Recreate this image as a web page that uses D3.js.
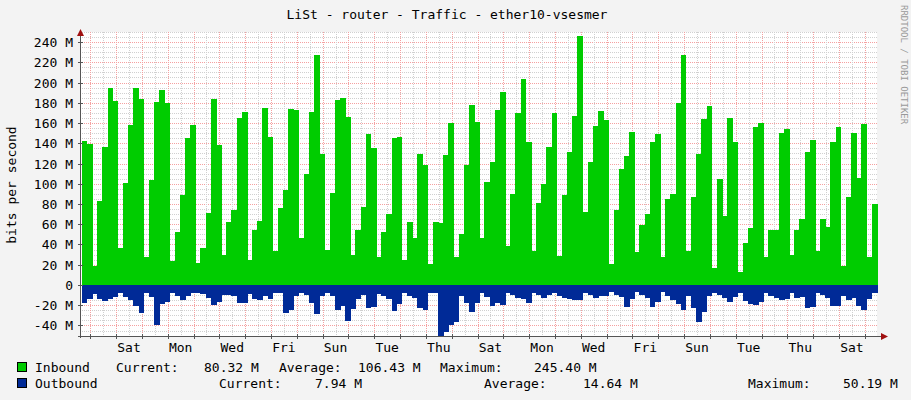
<!DOCTYPE html>
<html>
<head>
<meta charset="utf-8">
<script src="https://cdn.jsdelivr.net/npm/d3@7"></script>
<style>
  body { margin: 0; background: #f3f3f3; }
  text { font-family: "DejaVu Sans Mono", monospace; fill: #000; }
</style>
</head>
<body>
<script>
// inbound, M bits per 4.8h step left to right
var inbound = [
  142,139,19,83,136,195,182,37,101,158,195,184,28,104,181,193,180,24,52,89,145,158,22,37,71,184,138,30,62,74,165,171,25,54,63,175,146,34,
  76,94,174,173,46,110,171,227,129,35,91,183,185,166,30,54,77,149,135,28,52,70,145,146,25,62,46,129,119,21,62,61,128,160,28,50,119,178,161,
  46,102,121,173,191,39,90,170,203,141,34,81,100,136,170,29,89,131,167,246,72,121,157,172,163,21,74,115,127,151,33,59,70,141,149,28,85,90,180,
  227,34,87,129,164,177,17,105,68,165,141,13,41,56,156,160,28,54,54,150,154,30,54,65,131,143,34,65,57,141,156,19,87,150,106,159,28,80
];
var outbound = [
  -18,-14,-9,-13.5,-16,-14,-11.5,-8,-12,-15,-21,-28,-8,-12,-40,-19,-17,-8,-11,-15,-11,-8,-8,-9,-13,-20,-17,-10,-10,-11,-18,-18,-9,-14,-15,-11,-14,-8,
  -8,-28,-25,-11,-8,-10,-18,-29,-11,-8,-11,-25,-21,-36,-24,-14,-10,-23,-22,-9,-11,-14,-26,-19,-8,-11,-13,-23,-25,-8,-8,-50,-46,-40,-37,-11,-18,-27,-18,
  -8,-12,-21,-18,-20,-8,-10,-13,-14,-18,-8,-10,-13,-10,-8,-11,-13,-14,-15,-15,-8,-10,-13,-11,-11,-7,-10,-12,-22,-14,-7,-10,-13,-22,-17,-7,-11,-15,-19,
  -25,-11,-23,-37,-27,-11,-8,-10,-13,-17,-12,-8,-16,-19,-20,-17,-8,-11,-13,-15,-14,-8,-13,-12,-23,-22,-8,-10,-13,-21,-21,-11,-15,-13,-21,-25,-14,-8
];
var yTicks = [-40,-20,0,20,40,60,80,100,120,140,160,180,200,220,240];
var legendIn = [["Inbound",35],["Current:",116],["80.32 M",204],["Average:",279],["106.43 M",358],["Maximum:",440],["245.40 M",534]];
var legendOut = [["Outbound",35],["Current:",219],["7.94 M",315],["Average:",484],["14.64 M",583],["Maximum:",748],["50.19 M",843]];

var HOUR = 3600e3, DAY = 24*HOUR;
var t0 = new Date(2024, 0, 4, 14, 27);           // a Thursday afternoon
var t1 = new Date(+t0 + 30.87*DAY);
var firstSat = new Date(2024, 0, 6);
var firstBar = +t0 + 1.6*HOUR, step = 4.8*HOUR;

var W = 911, H = 400;
var svg = d3.select("body").append("svg").attr("width", W).attr("height", H);
svg.append("rect").attr("width", W).attr("height", H).attr("fill", "#f3f3f3");

var x = d3.scaleTime().domain([t0, t1]).range([80, 877]);
var y = d3.scaleLinear().domain([-50, 250]).range([335.6, 31.9]);

svg.append("rect").attr("x", 80).attr("y", 32).attr("width", 797).attr("height", 304).attr("fill", "#fff");

// grid
var g = svg.append("g").attr("shape-rendering", "crispEdges");
d3.range(-50, 251, 5).forEach(function(v) {
  var major = v % 20 === 0;
  g.append("line").attr("x1", 80).attr("x2", 877).attr("y1", Math.round(y(v))+0.5).attr("y2", Math.round(y(v))+0.5)
    .attr("stroke", major ? "#f5a0a0" : "#d0d0d0").attr("stroke-dasharray", "1,1");
});
d3.timeHour.every(12).range(t0, t1).forEach(function(d) {
  var major = d.getHours() === 0;
  g.append("line").attr("y1", 32).attr("y2", 336).attr("x1", Math.round(x(d))+0.5).attr("x2", Math.round(x(d))+0.5)
    .attr("stroke", major ? "#f5a0a0" : "#d0d0d0").attr("stroke-dasharray", "1,1");
});

// bars
function barX(i) { return x(new Date(firstBar + i*step)); }
var bars = svg.append("g").attr("shape-rendering", "crispEdges");
bars.selectAll("rect.in").data(inbound).join("rect").attr("class", "in")
  .attr("x", function(d, i) { return barX(i); })
  .attr("width", function(d, i) { return barX(i+1) - barX(i) + 0.6; })
  .attr("y", function(d) { return y(d); })
  .attr("height", function(d) { return y(0) - y(d); })
  .attr("fill", "#00cc00");
bars.selectAll("rect.out").data(outbound).join("rect").attr("class", "out")
  .attr("x", function(d, i) { return barX(i); })
  .attr("width", function(d, i) { return barX(i+1) - barX(i) + 0.6; })
  .attr("y", y(0))
  .attr("height", function(d) { return y(d) - y(0); })
  .attr("fill", "#002a97");

// axes
svg.append("line").attr("x1", 80.5).attr("x2", 80.5).attr("y1", 32).attr("y2", 338).attr("stroke", "#555");
svg.append("line").attr("x1", 78).attr("x2", 881).attr("y1", 336.5).attr("y2", 336.5).attr("stroke", "#555");
svg.append("path").attr("d", "M77,36 L84,36 L80.5,29 Z").attr("fill", "#a01010");
svg.append("path").attr("d", "M881,333 L881,340 L888,336.5 Z").attr("fill", "#a01010");

yTicks.forEach(function(v) {
  var yy = Math.round(y(v)) + 0.5;
  svg.append("line").attr("x1", 78).attr("x2", 83).attr("y1", yy).attr("y2", yy).attr("stroke", "#555");
  svg.append("text").attr("x", 73).attr("y", yy + 4.5).attr("text-anchor", "end").attr("font-size", 13)
    .text(v === 0 ? "0" : v + " M");
});
d3.timeDay.every(1).range(t0, t1).forEach(function(d) {
  svg.append("line").attr("x1", Math.round(x(d))+0.5).attr("x2", Math.round(x(d))+0.5).attr("y1", 334).attr("y2", 339).attr("stroke", "#555");
});
for (var k = 0; ; k += 2) {
  var day = d3.timeDay.offset(firstSat, k);
  var noon = new Date(+day + 12*HOUR);
  if (noon > t1) break;
  svg.append("text").attr("x", x(noon)).attr("y", 352).attr("text-anchor", "middle").attr("font-size", 13)
    .text(d3.timeFormat("%a")(day));
}

svg.append("text").attr("x", 447).attr("y", 19).attr("text-anchor", "middle").attr("font-size", 13)
  .text("LiSt - router - Traffic - ether10-vsesmer");
svg.append("text").attr("transform", "translate(16,185) rotate(-90)").attr("text-anchor", "middle").attr("font-size", 13)
  .text("bits per second");
svg.append("text").attr("transform", "translate(901,5) rotate(90)").attr("font-size", 9).style("fill", "#999")
  .text("RRDTOOL / TOBI OETIKER");

// legend
[[legendIn, 372, "#00cc00"], [legendOut, 388, "#002a97"]].forEach(function(r) {
  svg.append("rect").attr("x", 17.5).attr("y", r[1] - 9.5).attr("width", 9).attr("height", 9)
    .attr("fill", r[2]).attr("stroke", "#000");
  r[0].forEach(function(t) {
    svg.append("text").attr("x", t[1]).attr("y", r[1]).attr("font-size", 13).text(t[0]);
  });
});
</script>
</body>
</html>
